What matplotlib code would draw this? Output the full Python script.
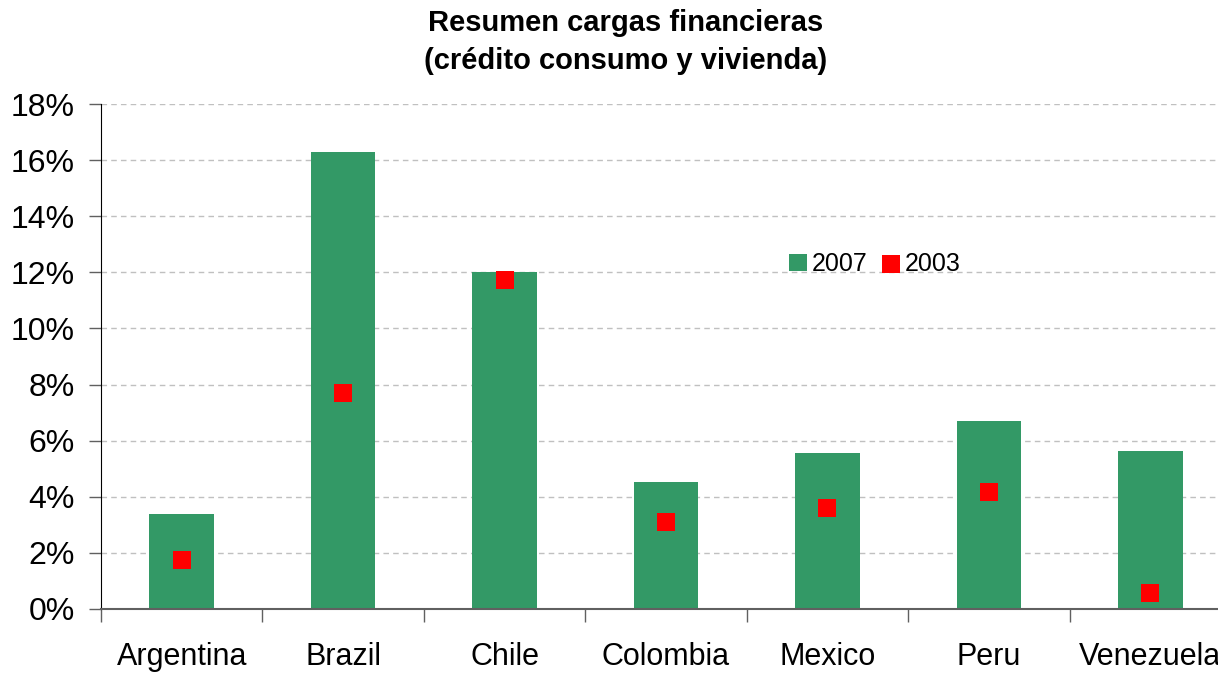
import numpy as np
import matplotlib.pyplot as plt
from matplotlib.ticker import FixedLocator, FuncFormatter

plt.rcParams['font.family'] = ['Liberation Sans', 'DejaVu Sans']

countries = ['Argentina', 'Brazil', 'Chile', 'Colombia', 'Mexico', 'Peru', 'Venezuela']
carga_2007 = [3.4, 16.3, 12.0, 4.53, 5.57, 6.7, 5.63]
carga_2003 = [1.75, 7.7, 11.73, 3.1, 3.6, 4.17, 0.57]

green = '#339966'
red = '#ff0000'

fig = plt.figure(figsize=(12.18, 6.73), dpi=100)
W, H = 1218, 673
ax = fig.add_axes([101 / W, (H - 609) / H, (1231 - 101) / W, (609 - 104) / H])

x = np.arange(len(countries))
b = ax.bar(x, carga_2007, width=0.4, color=green, label='2007', zorder=2)
s = ax.scatter(x, carga_2003, marker='s', s=165, color=red, label='2003', zorder=3, linewidths=0)

ax.set_xlim(-0.5, len(countries) - 0.5)
ax.set_ylim(0, 18)
ax.set_yticks(np.arange(0, 19, 2))
ax.yaxis.set_major_formatter(FuncFormatter(lambda v, p: '%d%%' % v))
ax.grid(axis='y', color='#c0c0c0', linestyle=(0, (4, 3)), linewidth=1, zorder=0)

ax.set_xticks(x)
ax.set_xticklabels(countries)
ax.xaxis.set_minor_locator(FixedLocator(np.arange(-0.5, len(countries), 1.0)))
ax.tick_params(axis='x', which='major', length=0, pad=24, labelsize=22)
ax.tick_params(axis='x', which='minor', length=9, width=1, color='#606060')
ax.tick_params(axis='y', length=9, width=1, labelsize=23, pad=10, color='#606060')

for sp in ['top', 'right']:
    ax.spines[sp].set_visible(False)
ax.spines['left'].set_color('black')
ax.spines['bottom'].set_color('#606060')
ax.spines['bottom'].set_linewidth(1.5)

ax.legend([b, s], ['2007', '2003'], loc='center', bbox_to_anchor=(875 / W, (H - 264) / H),
          bbox_transform=fig.transFigure, ncol=2, frameon=False, fontsize=18,
          handlelength=0.7, handletextpad=0.2, columnspacing=0.6, scatterpoints=1,
          markerscale=1.0)

fig.text(626 / W, 1 - 42 / H, 'Resumen cargas financieras\n(crédito consumo y vivienda)',
         ha='center', va='center', fontsize=21, fontweight='bold', linespacing=1.45)

fig.savefig('out.png', dpi=100)
